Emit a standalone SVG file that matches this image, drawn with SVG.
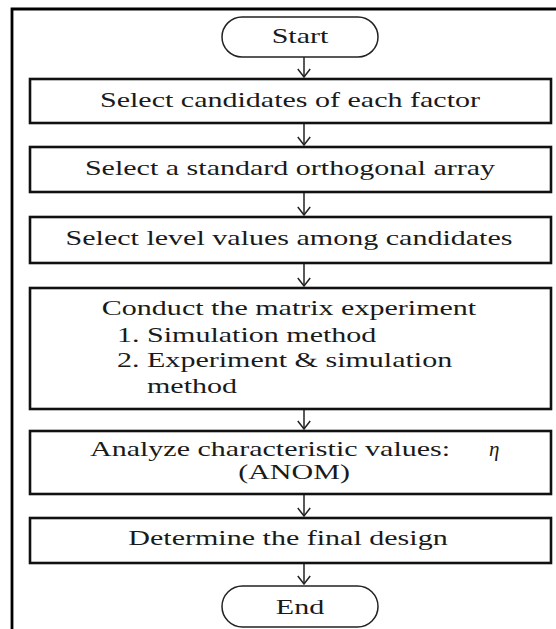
<svg xmlns="http://www.w3.org/2000/svg" width="556" height="629" viewBox="0 0 556 629">
<defs>
<style>
.box{fill:#fff;stroke:#111;stroke-width:2.6}
.pill{fill:#fff;stroke:#222;stroke-width:1.5}
.t{font-family:'Liberation Serif','Times New Roman',serif;font-size:21px;fill:#1a1a1a}
.c{text-anchor:middle}
.conn{stroke:#222;stroke-width:1.5;fill:none}
</style>
<marker id="arr" viewBox="0 0 10 14" refX="9" refY="7" markerWidth="10" markerHeight="14" markerUnits="userSpaceOnUse" orient="auto">
<path d="M1,0.8 L9,7 L1,13.2" fill="none" stroke="#222" stroke-width="1.5"/>
</marker>
</defs>
<rect width="556" height="629" fill="#fff"/>
<path d="M12,629 V9 H556" fill="none" stroke="#000" stroke-width="2.8"/>

<g id="connectors">
<line class="conn" x1="304" y1="57" x2="304" y2="77" marker-end="url(#arr)"/>
<line class="conn" x1="304" y1="124" x2="304" y2="145" marker-end="url(#arr)"/>
<line class="conn" x1="304" y1="193" x2="304" y2="215" marker-end="url(#arr)"/>
<line class="conn" x1="304" y1="264" x2="304" y2="286" marker-end="url(#arr)"/>
<line class="conn" x1="304" y1="410" x2="304" y2="429" marker-end="url(#arr)"/>
<line class="conn" x1="304" y1="495" x2="304" y2="516" marker-end="url(#arr)"/>
<line class="conn" x1="304" y1="564" x2="304" y2="584" marker-end="url(#arr)"/>
</g>

<g font-family="Liberation Serif, Times New Roman, serif">
<g id="start">
<rect class="pill" x="222" y="17" width="156" height="40" rx="20" ry="20"/>
<text class="t c" font-family="Liberation Serif, serif" transform="translate(300,43) scale(1.43,1)">Start</text>
</g>

<g id="select-candidates">
<rect class="box" x="30" y="79" width="521" height="44"/>
<text class="t c" font-family="Liberation Serif, serif" transform="translate(290,107) scale(1.43,1)">Select candidates of each factor</text>
</g>

<g id="select-array">
<rect class="box" x="30" y="147" width="521" height="45"/>
<text class="t c" font-family="Liberation Serif, serif" transform="translate(290,175) scale(1.43,1)">Select a standard orthogonal array</text>
</g>

<g id="select-levels">
<rect class="box" x="30" y="217" width="521" height="46"/>
<text class="t c" font-family="Liberation Serif, serif" transform="translate(289,245) scale(1.43,1)">Select level values among candidates</text>
</g>

<g id="conduct">
<rect class="box" x="30" y="288" width="521" height="121"/>
<text class="t c" font-family="Liberation Serif, serif" transform="translate(289,315) scale(1.43,1)">Conduct the matrix experiment</text>
<text class="t" font-family="Liberation Serif, serif" transform="translate(117,342) scale(1.43,1)">1. Simulation method</text>
<text class="t" font-family="Liberation Serif, serif" transform="translate(117,367) scale(1.43,1)">2. Experiment &amp; simulation</text>
<text class="t" font-family="Liberation Serif, serif" transform="translate(147,393) scale(1.43,1)">method</text>
</g>

<g id="analyze">
<rect class="box" x="30" y="431" width="521" height="63"/>
<text class="t" font-family="Liberation Serif, serif" transform="translate(90,456) scale(1.43,1)">Analyze characteristic values:</text>
<text class="t" font-family="Liberation Serif, serif" x="489" y="456" font-style="italic" font-size="23">η</text>
<text class="t c" font-family="Liberation Serif, serif" transform="translate(294,479) scale(1.43,1)">(ANOM)</text>
</g>

<g id="determine">
<rect class="box" x="30" y="518" width="521" height="45"/>
<text class="t c" font-family="Liberation Serif, serif" transform="translate(288,545) scale(1.43,1)">Determine the final design</text>
</g>

<g id="end">
<rect class="pill" x="222" y="586" width="156" height="41" rx="20.5" ry="20.5"/>
<text class="t c" font-family="Liberation Serif, serif" transform="translate(300,614) scale(1.43,1)">End</text>
</g>
</g>
</svg>
